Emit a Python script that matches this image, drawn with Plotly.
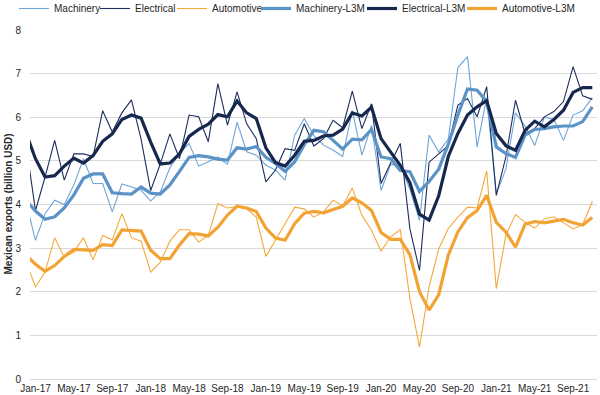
import plotly.graph_objects as go

# Months: Dec-16 (partly clipped at left edge) through Nov-21
months = ["Dec-16"] + [f"{m}-{y}" for y in range(17, 22) for m in
          ["Jan", "Feb", "Mar", "Apr", "May", "Jun", "Jul", "Aug", "Sep", "Oct", "Nov", "Dec"]][:59]
x_idx = list(range(-1, 59))

machinery = [4.07, 3.18, 3.79, 4.10, 4.00, 4.45, 5.05, 4.48, 4.48, 3.83, 4.47, 4.40, 4.33,
             4.08, 4.29, 4.84, 5.17, 5.40, 4.88, 4.98, 5.09, 4.92, 5.89, 5.21, 5.13,
             4.90, 4.79, 4.56, 5.59, 5.97, 5.58, 5.36, 5.25, 5.10, 6.15, 5.13, 5.81,
             4.32, 4.92, 4.90, 4.35, 3.64, 5.59, 5.20, 5.50, 7.14, 7.39, 5.32, 6.45,
             4.25, 4.81, 6.10, 5.80, 5.35, 6.00, 5.95, 5.47, 6.05, 6.15, 6.45]
electrical = [5.40, 3.86, 4.63, 5.47, 4.56, 5.16, 5.16, 5.10, 6.15, 5.66, 6.10, 6.40, 5.50,
              4.32, 4.93, 5.62, 5.05, 6.05, 6.01, 5.44, 6.77, 5.82, 6.58, 5.85, 5.51,
              4.52, 4.79, 5.28, 5.24, 5.85, 5.34, 5.51, 5.93, 5.76, 6.60, 5.74, 6.31,
              4.48, 4.95, 5.40, 3.44, 2.49, 4.97, 5.15, 5.35, 6.28, 6.43, 6.01, 6.70,
              4.21, 5.09, 6.39, 5.63, 5.74, 6.01, 6.13, 6.36, 7.16, 6.49, 6.41]
automotive = [2.70, 2.11, 2.45, 3.24, 2.79, 2.91, 3.24, 2.73, 3.29, 3.19, 3.79, 3.24, 3.16,
              2.45, 2.68, 3.16, 3.42, 3.42, 3.14, 3.29, 4.02, 3.92, 3.95, 3.90, 3.71,
              2.81, 3.18, 3.56, 3.94, 3.90, 3.71, 3.83, 4.10, 3.97, 4.38, 3.75, 3.41,
              2.93, 3.26, 3.42, 1.85, 0.73, 2.11, 2.98, 3.45, 3.71, 3.94, 3.92, 4.77,
              2.07, 3.30, 3.77, 3.59, 3.46, 3.67, 3.72, 3.59, 3.44, 3.54, 4.07]
machinery_l3m = [4.10, 3.85, 3.66, 3.72, 3.92, 4.22, 4.60, 4.70, 4.70, 4.27, 4.25, 4.24, 4.40,
                 4.26, 4.24, 4.45, 4.76, 5.08, 5.12, 5.09, 5.04, 5.02, 5.30, 5.27, 5.33,
                 5.08, 4.94, 4.76, 4.98, 5.37, 5.70, 5.67, 5.47, 5.27, 5.50, 5.48, 5.72,
                 5.09, 5.05, 4.78, 4.75, 4.30, 4.53, 4.81, 5.38, 6.05, 6.65, 6.62, 6.36,
                 5.32, 5.17, 5.08, 5.59, 5.72, 5.74, 5.78, 5.80, 5.80, 5.90, 6.24]
electrical_l3m = [5.65, 5.05, 4.63, 4.66, 4.88, 5.06, 4.95, 5.12, 5.45, 5.62, 5.95, 6.05, 5.98,
                  5.43, 4.93, 4.95, 5.16, 5.56, 5.72, 5.84, 6.06, 6.01, 6.37, 6.10, 5.97,
                  5.30, 4.96, 4.88, 5.13, 5.45, 5.47, 5.57, 5.59, 5.73, 6.10, 6.03, 6.23,
                  5.51, 5.20, 4.90, 4.50, 3.78, 3.64, 4.20, 5.10, 5.63, 6.05, 6.24, 6.38,
                  5.63, 5.35, 5.24, 5.70, 5.91, 5.78, 5.95, 6.16, 6.57, 6.68, 6.68]
automotive_l3m = [2.84, 2.63, 2.47, 2.60, 2.81, 2.97, 2.96, 2.95, 3.08, 3.06, 3.42, 3.40, 3.39,
                  2.95, 2.76, 2.76, 3.07, 3.33, 3.32, 3.28, 3.48, 3.76, 3.96, 3.92, 3.84,
                  3.46, 3.23, 3.18, 3.56, 3.80, 3.84, 3.81, 3.88, 3.96, 4.15, 4.04, 3.86,
                  3.36, 3.20, 3.20, 2.85, 2.00, 1.58, 1.93, 2.84, 3.37, 3.70, 3.86, 4.21,
                  3.59, 3.37, 3.02, 3.55, 3.61, 3.58, 3.62, 3.66, 3.58, 3.53, 3.70]

tick_vals = list(range(0, 57, 4))
tick_text = ["Jan-17", "May-17", "Sep-17", "Jan-18", "May-18", "Sep-18", "Jan-19", "May-19",
             "Sep-19", "Jan-20", "May-20", "Sep-20", "Jan-21", "May-21", "Sep-21"]
y_title = "Mexican exports (billion USD)"

C_MACH = "#6fa6d8"
C_MACH_L = "#5b93c7"
C_ELEC = "#1c2d5e"
C_ELEC_L = "#17284f"
C_AUTO = "#f5a93a"
C_AUTO_L = "#f2a334"

series = [
    ("Machinery", machinery, C_MACH, 1.1),
    ("Electrical", electrical, C_ELEC, 1.1),
    ("Automotive", automotive, C_AUTO, 1.1),
    ("Machinery-L3M", machinery_l3m, C_MACH_L, 3.2),
    ("Electrical-L3M", electrical_l3m, C_ELEC_L, 3.2),
    ("Automotive-L3M", automotive_l3m, C_AUTO_L, 3.2),
]
# one single-item legend per series, laid out left to right along the top
legend_left_px = [14, 95, 172, 256, 362, 462]

W, H = 600, 395
M_L, M_R, M_T, M_B = 30, 3, 30, 16
plot_w = W - M_L - M_R
plot_h = H - M_T - M_B

fig = go.Figure()
legend_layouts = {}
for k, (name, vals, col, w) in enumerate(series):
    lg = "legend" if k == 0 else f"legend{k + 1}"
    fig.add_trace(go.Scatter(x=x_idx, y=vals, mode="lines", name=name, legend=lg,
                             text=months, hovertemplate="%{text}: %{y}<extra>" + name + "</extra>",
                             line=dict(color=col, width=w), cliponaxis=True))
    legend_layouts[lg] = dict(
        orientation="h", xref="container", x=legend_left_px[k] / W, xanchor="left",
        yref="paper", y=1 + (M_T + 6) / plot_h, yanchor="top",
        font=dict(size=10, color="#262626"), itemwidth=30,
        bgcolor="rgba(0,0,0,0)", borderwidth=0)

FONT = "Liberation Sans, Arial, sans-serif"
fig.update_layout(
    width=W, height=H,
    margin=dict(l=M_L, r=M_R, t=M_T, b=M_B, autoexpand=False),
    paper_bgcolor="white", plot_bgcolor="white",
    font=dict(family=FONT, size=10, color="#262626"),
    showlegend=True,
    xaxis=dict(range=[-0.57, 58.49], tickmode="array", tickvals=tick_vals, ticktext=tick_text,
               showgrid=False, zeroline=False, showline=True, linecolor="#d9d9d9", linewidth=1,
               ticks="", automargin=False, tickfont=dict(size=10, color="#262626")),
    yaxis=dict(range=[0, 8], dtick=1, showgrid=True, gridcolor="#d9d9d9", gridwidth=1,
               zeroline=False, showline=False, ticks="", ticklabelstandoff=8, automargin=False,
               tickfont=dict(size=10, color="#262626")),
    annotations=[dict(text="<b>" + y_title + "</b>", textangle=-90, showarrow=False,
                      xref="paper", x=(8 - M_L) / plot_w, xanchor="center",
                      yref="paper", y=0.5, yanchor="middle",
                      font=dict(size=10, color="#262626"))],
    **legend_layouts,
)

fig.write_html("out.html", config={"displayModeBar": False},
               post_script="document.body.style.margin='0';document.documentElement.style.overflow='hidden';")
